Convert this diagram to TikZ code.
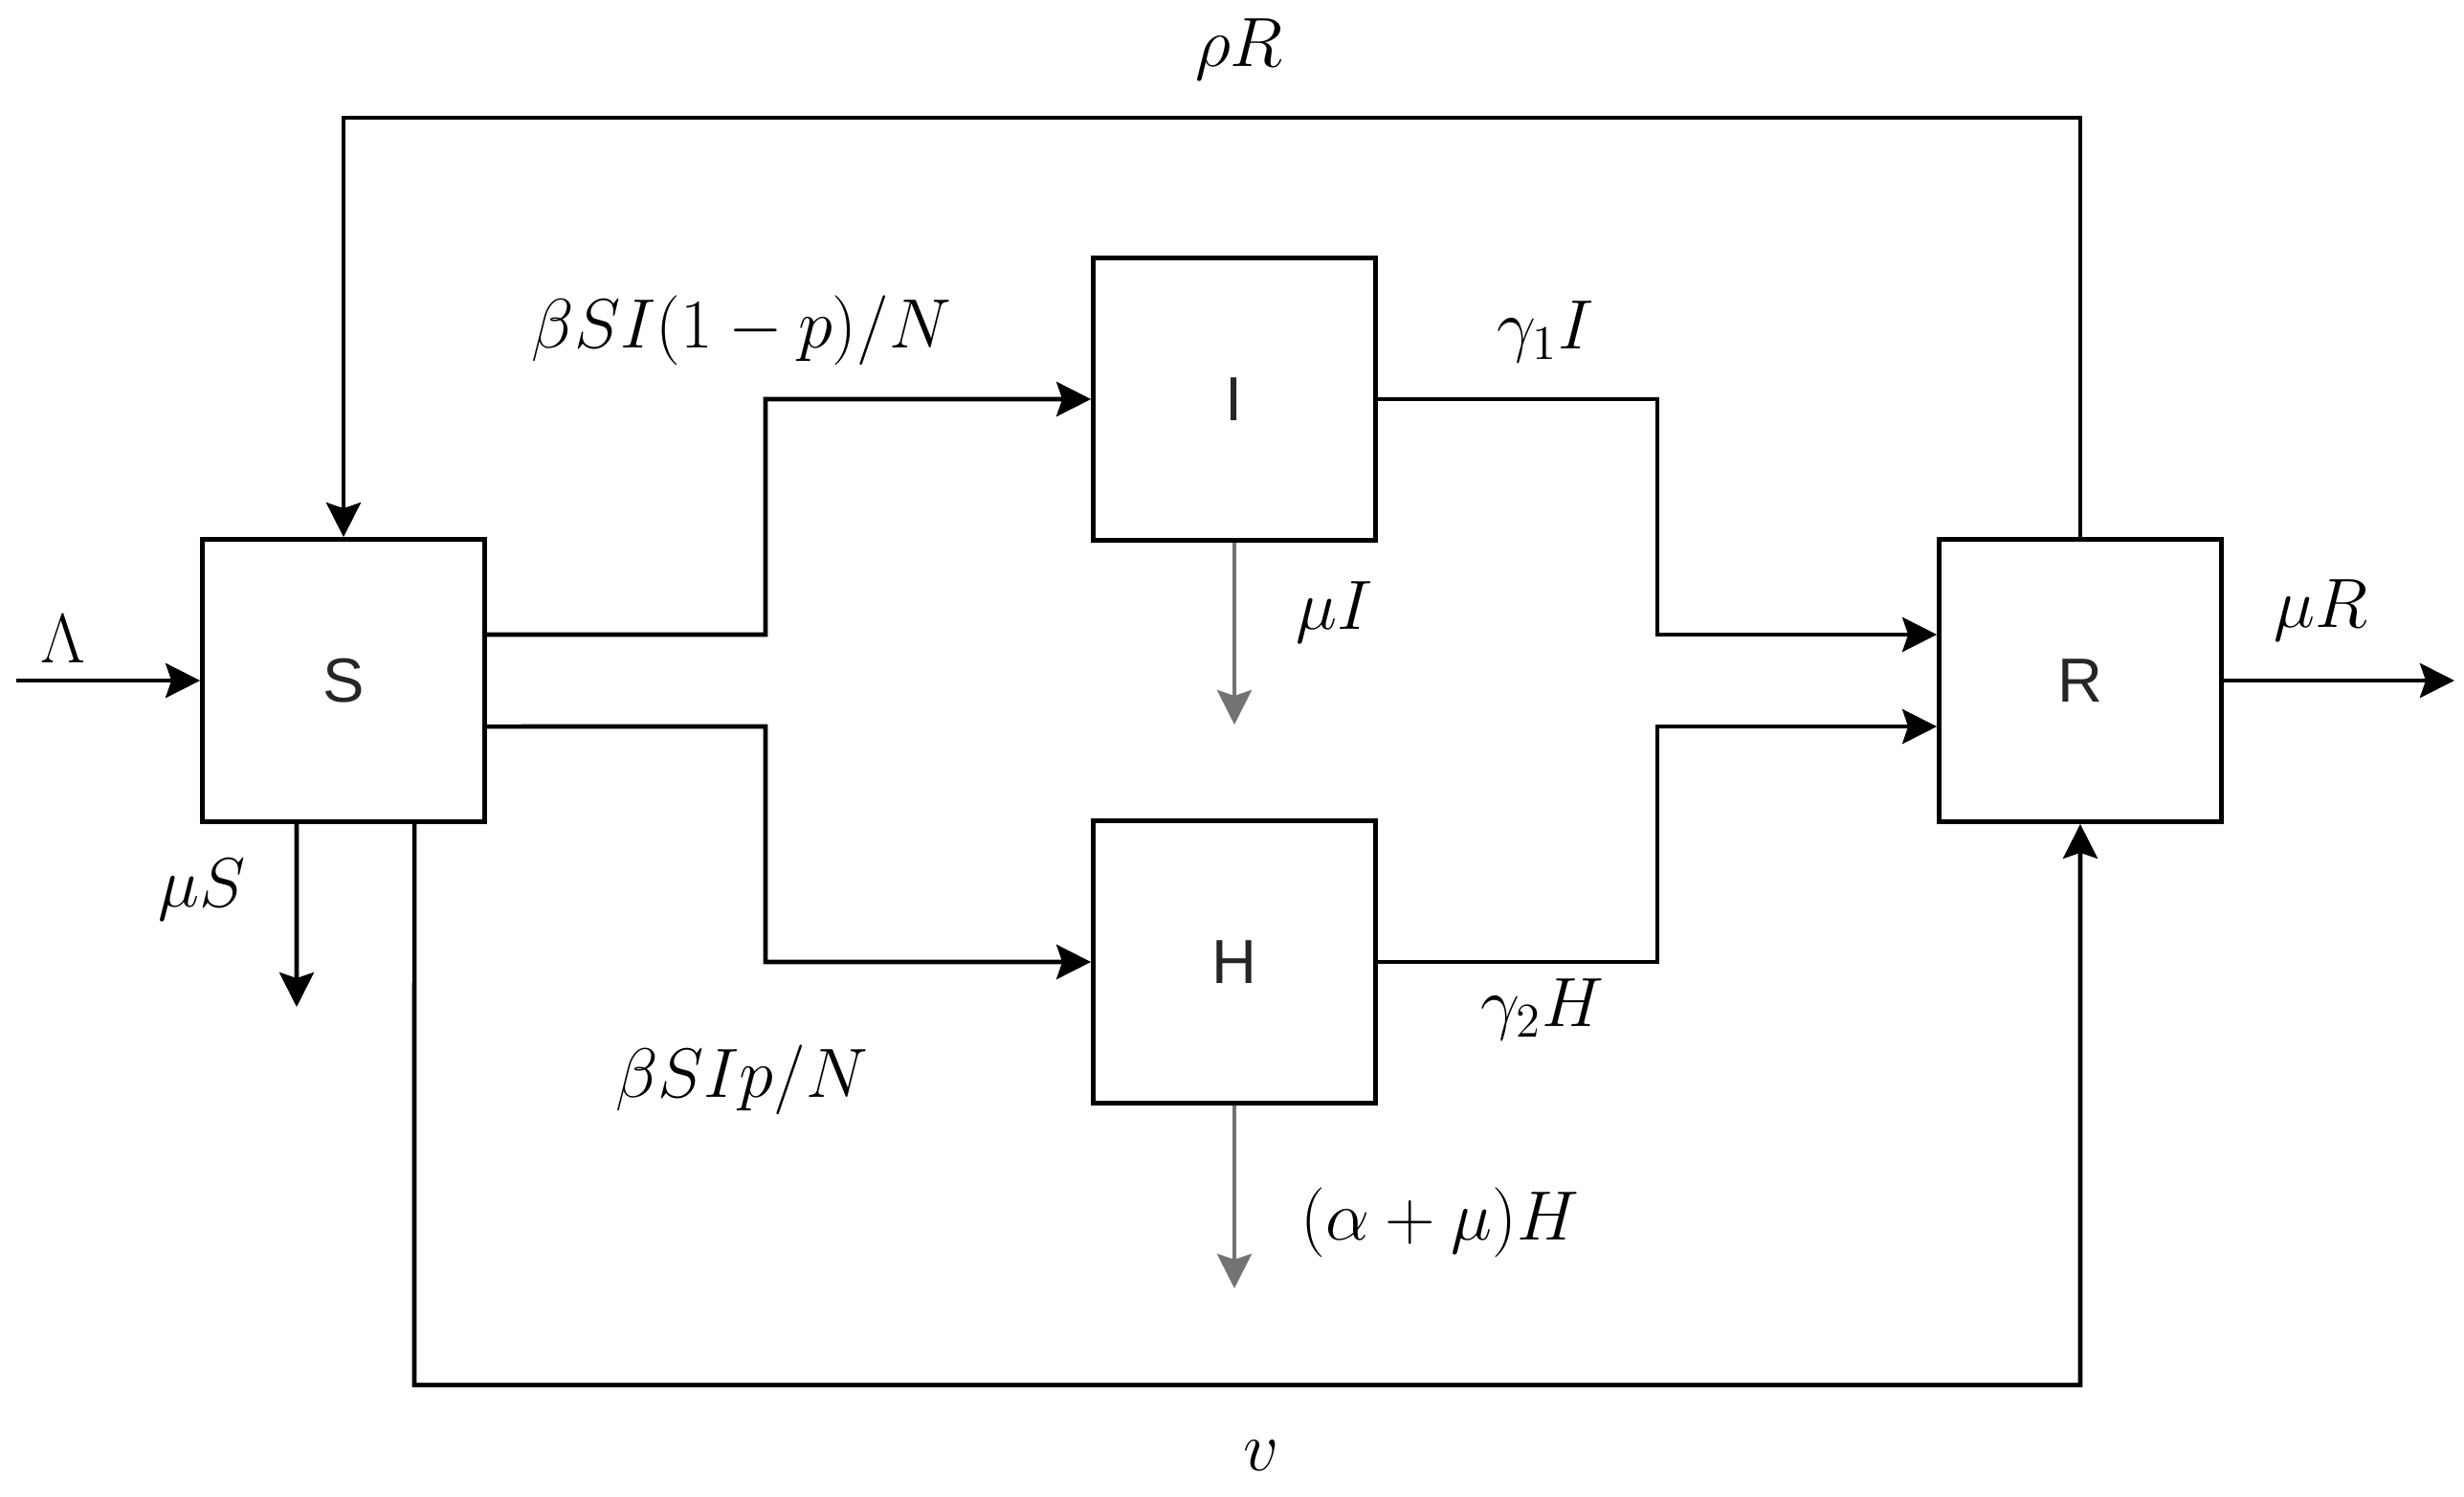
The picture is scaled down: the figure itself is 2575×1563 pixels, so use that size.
\documentclass[tikz,border=0pt]{standalone}
\usepackage{fontspec}
\setsansfont{Liberation Sans}
\usetikzlibrary{arrows.meta,calc}
\begin{document}
\begin{tikzpicture}[x=0.01cm,y=-0.01cm,
  box/.style={draw,line width=1.3pt,minimum width=2.95cm,minimum height=2.95cm,inner sep=0pt,font=\sffamily\fontsize{18.5}{22}\selectfont,text=black!85},
  flow/.style={line width=1.3pt,-{Stealth[length=0.36cm,width=0.36cm,inset=0.06cm]}},
  loss/.style={flow,draw=black!55},
  lab/.style={font=\fontsize{21.5}{25}\selectfont,inner sep=0pt}]
\useasboundingbox (0,0) rectangle (2575,1563);
\node[box] (S) at (359,711) {S};
\node[box] (I) at (1290,417) {I};
\node[box] (H) at (1290,1005) {H};
\node[box] (R) at (2174,711) {R};
\coordinate (in) at (17,711);
\coordinate (out) at (2565,711);
\coordinate (dS) at (310,1052);
\coordinate (dI) at (1290,757);
\coordinate (dH) at (1290,1346);
% connectors
\draw[flow] (in) -- (S.west);
\draw[flow] ([yshift=0.48cm]S.east) -- (800,663) |- (I.west);
\draw[flow] ([yshift=-0.48cm]S.east) -- (800,759) |- (H.west);
\draw[flow] (I.east) -- (1732,417) |- ([yshift=0.48cm]R.west);
\draw[flow] (H.east) -- (1732,1005) |- ([yshift=-0.48cm]R.west);
\draw[flow] (R.east) -- (out);
\draw[flow] (R.north) -- (2174,123) -| (S.north);
\draw[flow] ([xshift=0.74cm]S.south) -- (433,1447) -| (R.south);
\draw[flow] ([xshift=-0.49cm]S.south) -- (dS);
\draw[loss] (I.south) -- (dI);
\draw[loss] (H.south) -- (dH);
% labels
\node[lab] (lLambda) at (66,668) {$\Lambda$};
\node[lab] (lrho) at (1295,52) {$\rho R$};
\node[lab] (lb1) at (775,345) {$\beta SI(1-p)/N$};
\node[lab] (lg1) at (1615,347) {$\gamma_1 I$};
\node[lab] (lmuI) at (1395,640) {$\mu I$};
\node[lab] (lmuR) at (2425,638) {$\mu R$};
\node[lab] (lmuS) at (211,930) {$\mu S$};
\node[lab] (lb2) at (775,1128) {$\beta SIp/N$};
\node[lab] (lg2) at (1612,1055) {$\gamma_2 H$};
\node[lab] (laH) at (1505,1277) {$(\alpha+\mu)H$};
\node[lab] (lv) at (1318,1521) {$v$};
\end{tikzpicture}
\end{document}
